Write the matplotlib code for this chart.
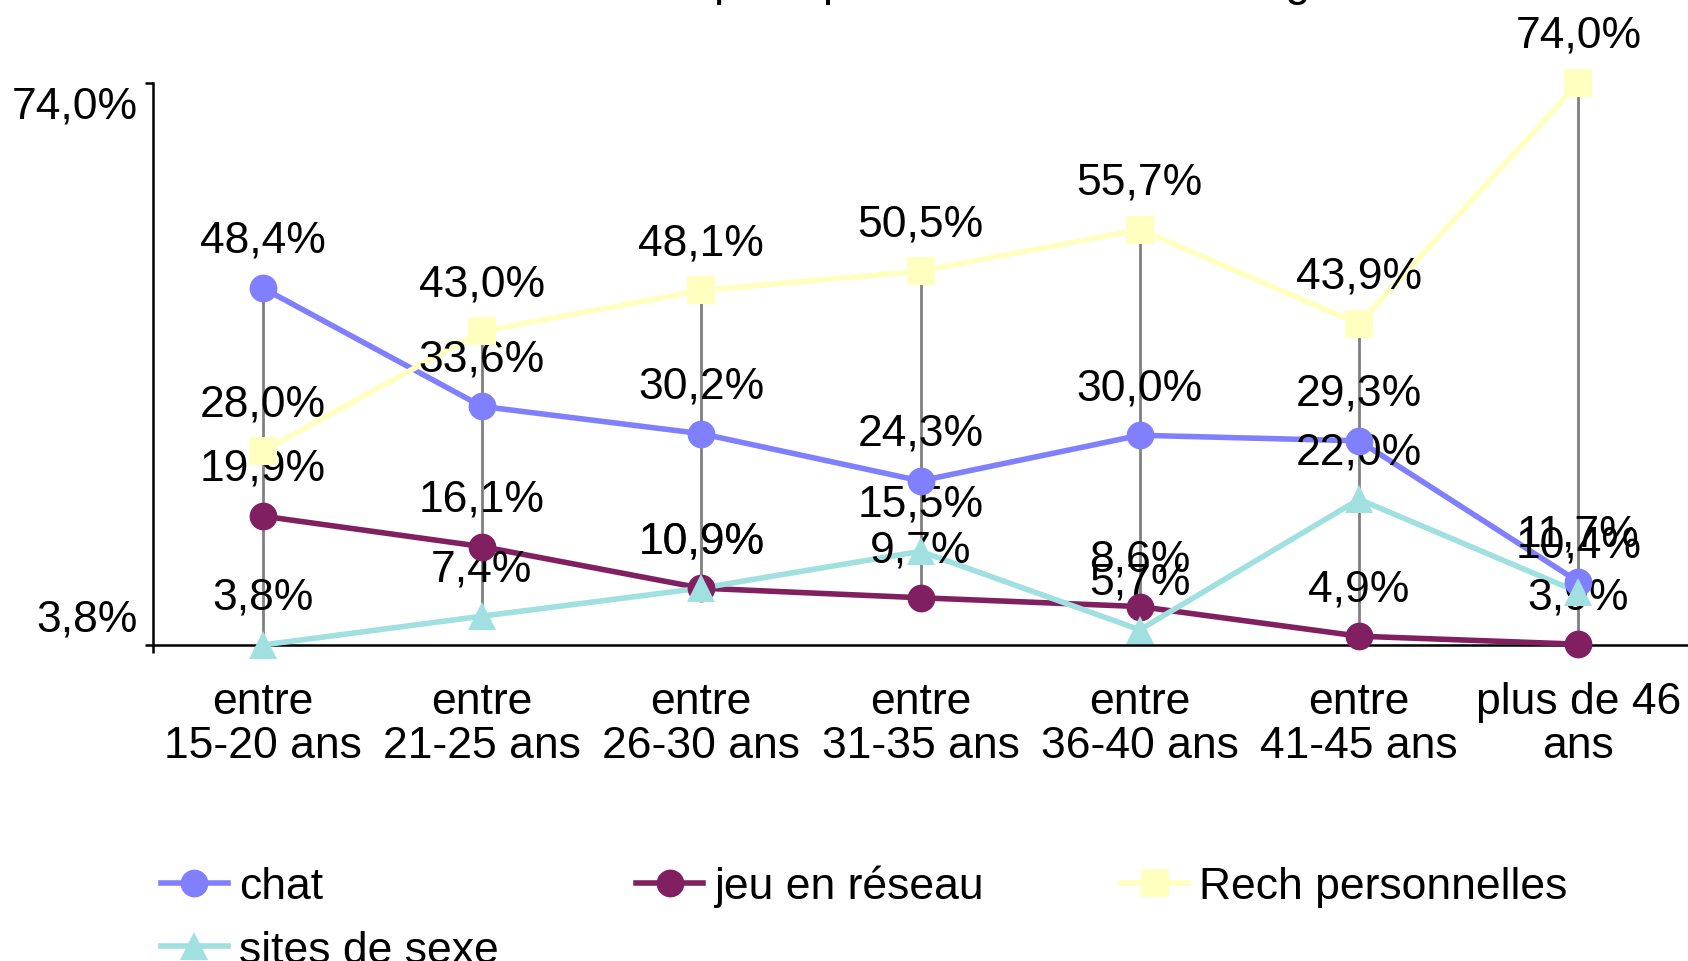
import matplotlib
matplotlib.use("Agg")
import matplotlib.pyplot as plt
from matplotlib.lines import Line2D

plt.rcParams['font.family'] = ['Liberation Sans', 'DejaVu Sans']

categories = ["entre\n15-20 ans", "entre\n21-25 ans", "entre\n26-30 ans", "entre\n31-35 ans",
              "entre\n36-40 ans", "entre\n41-45 ans", "plus de 46\nans"]
chat = [48.4, 33.6, 30.2, 24.3, 30.0, 29.3, 11.7]
jeu_reseau = [19.9, 16.1, 10.9, 9.7, 8.6, 4.9, 3.9]
rech_perso = [28.0, 43.0, 48.1, 50.5, 55.7, 43.9, 74.0]
sites_sexe = [3.8, 7.4, 10.9, 15.5, 5.7, 22.0, 10.4]
series_names = ["chat", "jeu en réseau", "Rech personnelles", "sites de sexe"]
y_min, y_max = 3.8, 74.0
title = "Utilisation principale d'internet selon l'âge"

colors = ["#8080FF", "#802060", "#FFFFC0", "#A0E0E0"]
markers = ["o", "o", "s", "^"]
series = [chat, jeu_reseau, rech_perso, sites_sexe]

W, H = 1688, 962
fig = plt.figure(figsize=(W / 100, H / 100), dpi=100)
ax = fig.add_axes([153 / W, 1 - 646 / H, 1 - 153 / W, (646 - 84) / H])

x = list(range(len(categories)))
FS = 32
MS = 20
LW = 4

# hi-lo lines
lows = [min(v) for v in zip(*series)]
highs = [max(v) for v in zip(*series)]
ax.vlines(x, lows, highs, colors="#808080", linewidth=2, zorder=1.5)

handles = []
for vals, c, m, name in zip(series, colors, markers, series_names):
    ax.plot(x, vals, color=c, linewidth=LW, clip_on=False, zorder=3)
    ax.plot(x, vals, linestyle="none", color=c, marker=m, markersize=MS,
            markeredgewidth=0, clip_on=False, zorder=5)
    handles.append(Line2D([], [], color=c, marker=m, markersize=MS,
                          markeredgewidth=0, linewidth=LW))

for vals in series:
    for xi, v in zip(x, vals):
        ax.annotate(f"{v:.1f}%".replace(".", ","), xy=(xi, v), xytext=(0, 26),
                    textcoords="offset points", ha="center", va="baseline",
                    fontsize=FS, zorder=4, annotation_clip=False)

ax.set_xlim(-0.5, len(categories) - 0.5)
ax.set_ylim(y_min, y_max)

for s in ["top", "right"]:
    ax.spines[s].set_visible(False)
for s in ["left", "bottom"]:
    ax.spines[s].set_linewidth(1.8)
    ax.spines[s].set_color("black")

ax.set_xticks(x)
ax.set_xticklabels(categories, fontsize=FS, linespacing=1.1)
ax.tick_params(axis="x", length=0, pad=26)
ax.set_xticks([-0.5], minor=True)
ax.tick_params(axis="x", which="minor", length=6, width=1.8, direction="out")

ax.set_yticks([y_min, y_max])
ax.set_yticklabels([])
ax.tick_params(axis="y", length=6, width=1.8, direction="out")
ax.annotate("74,0%", xy=(0, y_max), xycoords=("axes fraction", "data"),
            xytext=(-11, -2), textcoords="offset points", ha="right", va="top",
            fontsize=FS, annotation_clip=False)
ax.annotate("3,8%", xy=(0, y_min), xycoords=("axes fraction", "data"),
            xytext=(-11, 4), textcoords="offset points", ha="right", va="bottom",
            fontsize=FS, annotation_clip=False)

fig.text(504 / W, 1 + 5 / H, title, ha="left", va="baseline", fontsize=32.8)

order = [0, 3, 1, 2]
leg = fig.legend([handles[i] for i in order], [series_names[i] for i in order],
                 loc="upper left", bbox_to_anchor=(161 / W, 1 - 866 / H),
                 ncol=3, frameon=False, fontsize=FS, handlelength=1.5,
                 handletextpad=0.25, columnspacing=3.1, labelspacing=0.5,
                 borderpad=0, borderaxespad=0)

fig.savefig("out.png", dpi=100)
